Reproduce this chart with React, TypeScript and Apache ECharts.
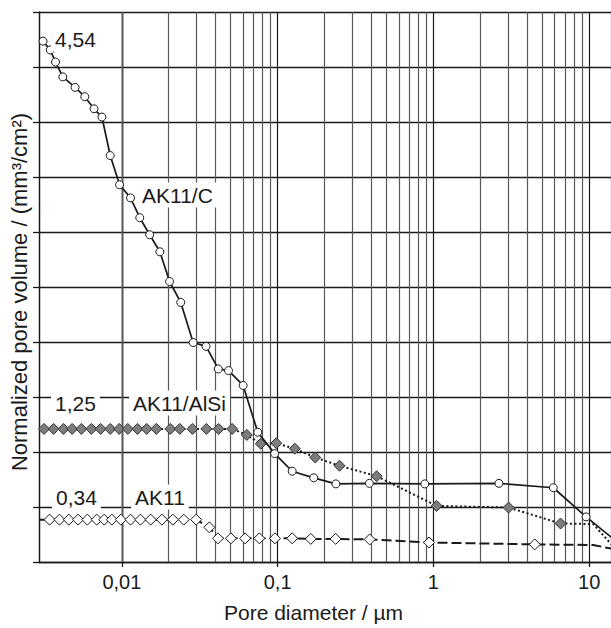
import React, { useEffect, useRef } from "react";
import * as echarts from "echarts";

// Axis extent (pore diameter, µm)
const X_MIN = 0.002939;
const X_MAX = 13.8;
const X_TICK_VALUES = [0.01, 0.1, 1, 10];
const X_TICK_LABELS = ["0,01", "0,1", "1", "10"];
const X_MINOR_VALUES = [
  0.004, 0.005, 0.006, 0.007, 0.008, 0.009,
  0.02, 0.03, 0.04, 0.05, 0.06, 0.07, 0.08, 0.09,
  0.2, 0.3, 0.4, 0.5, 0.6, 0.7, 0.8, 0.9,
  2, 3, 4, 5, 6, 7, 8, 9,
];

// AK11/C (white circles, solid)
const C_X = [0.00312, 0.00347, 0.00375, 0.00418, 0.00501, 0.00578, 0.00663, 0.00745, 0.00842, 0.00967,
  0.01137, 0.01303, 0.01509, 0.01755, 0.02025, 0.02388, 0.02869, 0.03471, 0.04159, 0.04839,
  0.06006, 0.07456, 0.09571, 0.124, 0.1705, 0.2366, 0.388, 0.88, 2.634, 5.885, 9.55];
const C_Y = [9.47, 9.31, 9.09, 8.82, 8.63, 8.46, 8.24, 8.09, 7.39, 6.86,
  6.62, 6.26, 5.95, 5.64, 5.10, 4.72, 3.99, 3.92, 3.51, 3.48,
  3.21, 2.36, 1.97, 1.65, 1.53, 1.42, 1.43, 1.42, 1.43, 1.35, 0.82];
const C_TAIL_X = [14];
const C_TAIL_Y = [0.44];

// AK11/AlSi (grey diamonds, dotted)
const ALSI_X = [0.003165, 0.003644, 0.004219, 0.004796, 0.005498, 0.006369, 0.007313, 0.008422, 0.009611, 0.01092,
  0.0126, 0.01444, 0.01665, 0.02046, 0.02355, 0.0284, 0.03487, 0.04178, 0.05109, 0.06343,
  0.07789, 0.09797, 0.129, 0.1743, 0.2498, 0.4321, 1.049, 3.038, 6.55];
const ALSI_Y = [2.42, 2.42, 2.42, 2.42, 2.42, 2.42, 2.42, 2.42, 2.42, 2.42,
  2.42, 2.42, 2.42, 2.42, 2.42, 2.42, 2.42, 2.42, 2.42, 2.31,
  2.15, 2.16, 2.06, 1.90, 1.75, 1.56, 1.02, 0.99, 0.70];
const ALSI_TAIL_X = [10.6, 14];
const ALSI_TAIL_Y = [0.69, 0.31];

// AK11 (white diamonds, dashed)
const AK_HEAD_X = [X_MIN];
const AK_HEAD_Y = [0.77];
const AK_X = [0.003436, 0.00398, 0.004569, 0.005238, 0.006007, 0.006896, 0.007709, 0.008633, 0.009854, 0.01137,
  0.01316, 0.01531, 0.01808, 0.02126, 0.02498, 0.02998, 0.03644, 0.04141, 0.05012, 0.06183,
  0.0763, 0.09612, 0.124, 0.1632, 0.2356, 0.3898, 0.9374, 4.471];
const AK_Y = [0.77, 0.77, 0.77, 0.77, 0.77, 0.77, 0.77, 0.77, 0.77, 0.77,
  0.77, 0.77, 0.77, 0.77, 0.77, 0.77, 0.63, 0.43, 0.43, 0.43,
  0.43, 0.43, 0.43, 0.42, 0.42, 0.41, 0.355, 0.32];
const AK_TAIL_X = [10.6, 14];
const AK_TAIL_Y = [0.31, 0.24];

// Annotation texts
const ANNOTATIONS = ["4,54", "AK11/C", "1,25", "AK11/AlSi", "0,34", "AK11"];

const FONT = "'Liberation Sans', Arial, Helvetica, sans-serif";
const INK = "#1a1a1a";

function pts(xs: number[], ys: number[], marker: boolean) {
  return xs.map((x, i) =>
    marker ? { value: [x, ys[i]] } : { value: [x, ys[i]], symbol: "none" }
  );
}

export default function App() {
  const ref = useRef<HTMLDivElement>(null);

  useEffect(() => {
    if (!ref.current) return;
    const chart = echarts.init(ref.current, null, { renderer: "svg" });

    const annPos = [
      [51, 39],
      [138, 195],
      [51, 403],
      [129, 403],
      [52, 497],
      [131, 497],
    ];

    const option: any = {
      animation: false,
      backgroundColor: "#ffffff",
      grid: { left: 37, right: -2, top: 12, bottom: 62, containLabel: false },
      xAxis: {
        type: "log",
        logBase: 10,
        min: X_MIN,
        max: X_MAX,
        name: "Pore diameter / µm",
        nameLocation: "middle",
        nameGap: 40,
        nameTextStyle: {
          fontFamily: FONT,
          fontSize: 21,
          color: INK,
          padding: [0, 23, 0, 0],
        },
        axisLine: { show: true, lineStyle: { color: INK, width: 1.3 } },
        axisTick: { show: true, inside: false, length: 5, lineStyle: { color: INK, width: 1.3 } },
        axisLabel: {
          show: true,
          margin: 10,
          fontFamily: FONT,
          fontSize: 20,
          color: INK,
          showMinLabel: false,
          showMaxLabel: false,
          formatter: (v: number) => {
            for (let i = 0; i < X_TICK_VALUES.length; i++) {
              if (Math.abs(Math.log10(v) - Math.log10(X_TICK_VALUES[i])) < 1e-6) return X_TICK_LABELS[i];
            }
            return "";
          },
        },
        splitLine: { show: true, lineStyle: { color: INK, width: 1.2 } },
      },
      yAxis: {
        type: "value",
        min: 0,
        max: 10,
        interval: 1,
        name: "Normalized pore volume / (mm³/cm²)",
        nameLocation: "middle",
        nameGap: 9,
        nameTextStyle: {
          fontFamily: FONT,
          fontSize: 22,
          color: INK,
          padding: [0, 10, 0, 0],
        },
        axisLine: { show: true, lineStyle: { color: INK, width: 1.3 } },
        axisTick: { show: true, inside: false, length: 6, lineStyle: { color: INK, width: 1.3 } },
        axisLabel: { show: false },
        splitLine: { show: true, lineStyle: { color: INK, width: 1.3 } },
      },
      series: [
        {
          name: "minor",
          type: "line",
          data: [],
          z: 1,
          silent: true,
          markLine: {
            silent: true,
            symbol: "none",
            z: 1,
            label: { show: false },
            lineStyle: { color: "#575757", width: 1.2, type: "solid" },
            data: X_MINOR_VALUES.map((v) => ({ xAxis: v })),
          },
        },
        {
          name: "AK11",
          type: "line",
          z: 3,
          data: [...pts(AK_HEAD_X, AK_HEAD_Y, false), ...pts(AK_X, AK_Y, true), ...pts(AK_TAIL_X, AK_TAIL_Y, false)],
          symbol: "diamond",
          symbolSize: 11,
          showAllSymbol: true,
          itemStyle: { color: "#ffffff", borderColor: INK, borderWidth: 1 },
          lineStyle: { color: INK, width: 2, type: [10, 4] },
        },
        {
          name: "AK11/AlSi",
          type: "line",
          z: 4,
          data: [...pts(ALSI_X, ALSI_Y, true), ...pts(ALSI_TAIL_X, ALSI_TAIL_Y, false)],
          symbol: "diamond",
          symbolSize: 11,
          showAllSymbol: true,
          itemStyle: { color: "#7d7d7d", borderColor: "#333333", borderWidth: 1 },
          lineStyle: { color: INK, width: 2, type: [2, 2.5] },
        },
        {
          name: "AK11/C",
          type: "line",
          z: 5,
          data: [...pts(C_X, C_Y, true), ...pts(C_TAIL_X, C_TAIL_Y, false)],
          symbol: "circle",
          symbolSize: 8,
          showAllSymbol: true,
          itemStyle: { color: "#ffffff", borderColor: INK, borderWidth: 1 },
          lineStyle: { color: INK, width: 1.7, type: "solid" },
        },
      ],
      graphic: ANNOTATIONS.map((t, i) => ({
        type: "text",
        x: annPos[i][0],
        y: annPos[i][1],
        z: 100,
        silent: true,
        style: {
          text: t,
          fontFamily: FONT,
          fontSize: 21,
          fill: INK,
          align: "left",
          verticalAlign: "middle",
          backgroundColor: "#ffffff",
          padding: [2, 4, 2, 4],
        },
      })),
    };

    chart.setOption(option);
    return () => chart.dispose();
  }, []);

  return (
    <div
      ref={ref}
      style={{ position: "fixed", left: 0, top: 0, width: 611, height: 628, background: "#fff" }}
    />
  );
}
